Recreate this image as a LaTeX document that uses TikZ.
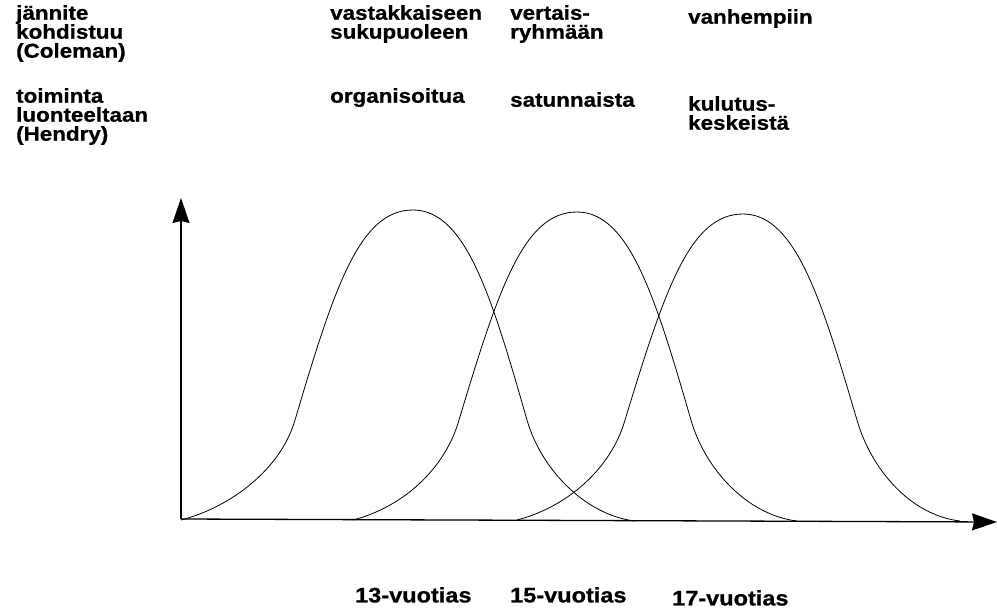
\documentclass[tikz,border=0pt]{standalone}
\usepackage{fontspec}
\setmainfont{Liberation Sans}[FakeStretch=1.12,BoldFeatures={FakeBold=0.8}]
\usetikzlibrary{arrows.meta,positioning}

\begin{document}
\begin{tikzpicture}[
  x=1pt,y=-1pt,
  lbl/.style={anchor=north west,inner sep=0pt,align=left,
              font=\fontsize{20}{19}\selectfont\bfseries},
  age/.style={lbl,font=\fontsize{21}{21}\selectfont\bfseries},
  axis/.style={line width=1.3pt,-{Stealth[length=25pt,width=17pt,inset=2pt]}},
  curve/.style={line width=0.8pt}
]
  \useasboundingbox (0,0) rectangle (997,616);

  % labels, upper row (Coleman)
  \node[lbl] (jannite) at (16,5) {jännite\\kohdistuu\\(Coleman)};
  \node[lbl] (vastakk) at (330,5) {vastakkaiseen\\sukupuoleen};
  \node[lbl] (vertais) at (510,5) {vertais-\\ryhmään};
  \node[lbl] (vanhemp) at (688,9) {vanhempiin};

  % labels, lower row (Hendry)
  \node[lbl] (toiminta) at (16,88) {toiminta\\luonteeltaan\\(Hendry)};
  \node[lbl] (organis) at (330,88) {organisoitua};
  \node[lbl] (satunn) at (510,92) {satunnaista};
  \node[lbl] (kulutus) at (688,96) {kulutus-\\keskeistä};

  % ages
  \node[age] (age13) at (355,587) {13-vuotias};
  \node[age] (age15) at (510,587) {15-vuotias};
  \node[age] (age17) at (672,590) {17-vuotias};

  % axes
  \coordinate (origin) at (181,519);
  \coordinate (ytip) at (181,198);
  \coordinate (xtip) at (997,522);
  \draw[axis] (origin) -- (ytip);
  \draw[axis] (origin) -- (xtip);

  % the three bell curves
  \foreach \s/\p/\e/\t in {181/413/635/210, 353/577/797/212, 517/743/960/214}
    \draw[curve] (\s,520) .. controls ({\s+50},507) and ({\p-132},469)
      .. ({\p-118},420) .. controls ({\p-78},{\t+75}) and ({\p-53},\t)
      .. (\p,\t) .. controls ({\p+53},\t) and ({\p+79},{\t+88})
      .. ({\p+114},420) .. controls ({\p+128},469) and ({\e-50},515)
      .. (\e,521);
\end{tikzpicture}
\end{document}
